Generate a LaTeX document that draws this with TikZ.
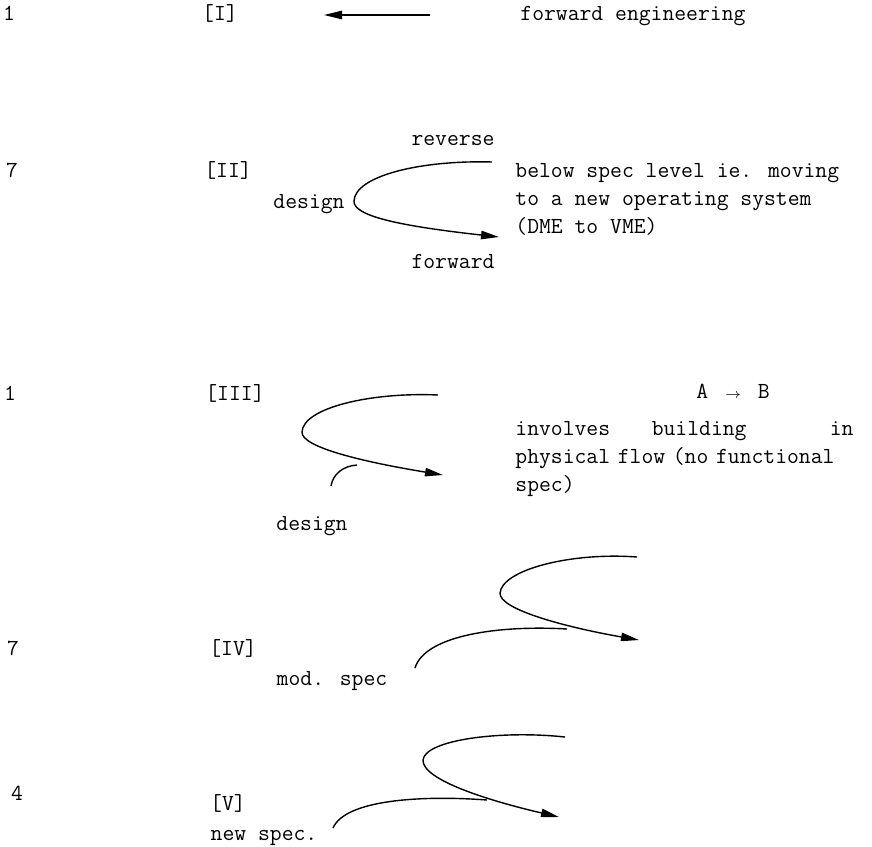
\documentclass[tikz,border=0pt]{standalone}
\usepackage{amsmath,amssymb}
\usepackage{xcolor}
\usepackage{tikz}
\usetikzlibrary{arrows.meta}

\begin{document}
\begin{tikzpicture}[x=0.5pt,y=-0.5pt,>={Triangle[length=9pt,width=4.2pt]},line join=round,
  txt/.style={inner sep=0pt,font=\fontsize{11.5}{14}\selectfont\ttfamily},
  flow/.style={line width=0.7pt}]
  \useasboundingbox (0,0) rectangle (872,846);
  % row I
  \node[txt,anchor=base] (N1) at (9,20) {1};
  \node[txt,anchor=base] (RI) at (220,20) {[I]};
  \coordinate (A1S) at (430,15);
  \coordinate (A1E) at (324,15);
  \draw[flow,->] (A1S) -- (A1E);
  \node[txt,anchor=base west] (FE) at (520,20) {forward engineering};
  % row II
  \node[txt,anchor=base] (N2) at (12,177) {7};
  \node[txt,anchor=base] (RII) at (228,177) {[II]};
  \node[txt,anchor=base] (DS2) at (309,208) {design};
  \node[txt,anchor=base] (REV) at (453,145) {reverse};
  \node[txt,anchor=base] (FWD) at (453,268) {forward};
  \coordinate (C2S) at (492,162);
  \coordinate (C2E) at (499,237);
  \draw[flow,->] (C2S) .. controls (420,160) and (355,176) .. (354,201)
    .. controls (353,216) and (400,226) .. (C2E);
  \node[txt,anchor=north west,align=left] (BSL) at (515,163)
    {below spec level ie. moving\\to a new operating system\\(DME to VME)};
  % row III
  \node[txt,anchor=base] (N3) at (10,400) {1};
  \node[txt,anchor=base] (RIII) at (235,400) {[III]};
  \coordinate (C3S) at (438,395);
  \coordinate (C3E) at (443,475);
  \draw[flow,->] (C3S) .. controls (370,392) and (303,408) .. (302,432)
    .. controls (301,448) and (370,463) .. (C3E);
  \coordinate (D3S) at (331,486);
  \coordinate (D3E) at (357,465);
  \draw[flow] (D3S) .. controls (333,474) and (343,466) .. (D3E);
  \node[txt,anchor=base] (AB) at (733,398) {A \makebox[13pt]{\scriptsize$\rightarrow$} B};
  \node[txt,anchor=north west,align=left,text width=169.05pt] (INV) at (515,421)
    {involves\hspace{0pt plus 1fill}building\hspace{0pt plus 2fill}in\\physical flow (no functional\\spec)};
  \node[txt,anchor=base] (DS3) at (312,530) {design};
  % row IV
  \node[txt,anchor=base] (N4) at (13,655) {7};
  \node[txt,anchor=base] (RIV) at (233,655) {[IV]};
  \node[txt,anchor=base] (MS) at (332,685) {mod. spec};
  \coordinate (C4S) at (637,557);
  \coordinate (C4E) at (639,640);
  \draw[flow,->] (C4S) .. controls (570,552) and (502,570) .. (500,593)
    .. controls (499,610) and (570,628) .. (C4E);
  \coordinate (D4S) at (415,668);
  \coordinate (D4E) at (567,629);
  \draw[flow] (D4S) .. controls (425,635) and (500,625) .. (D4E);
  % row V
  \node[txt,anchor=base] (N5) at (17,800) {4};
  \node[txt,anchor=base] (RV) at (228,810) {[V]};
  \node[txt,anchor=base] (NS) at (264,840) {new spec.};
  \coordinate (C5S) at (565,737);
  \coordinate (C5E) at (559,817);
  \draw[flow,->] (C5S) .. controls (500,730) and (425,740) .. (423,760)
    .. controls (422,780) and (490,801) .. (C5E);
  \coordinate (D5S) at (333,828);
  \coordinate (D5E) at (487,800);
  \draw[flow] (D5S) .. controls (345,800) and (420,795) .. (D5E);
\end{tikzpicture}
\end{document}
